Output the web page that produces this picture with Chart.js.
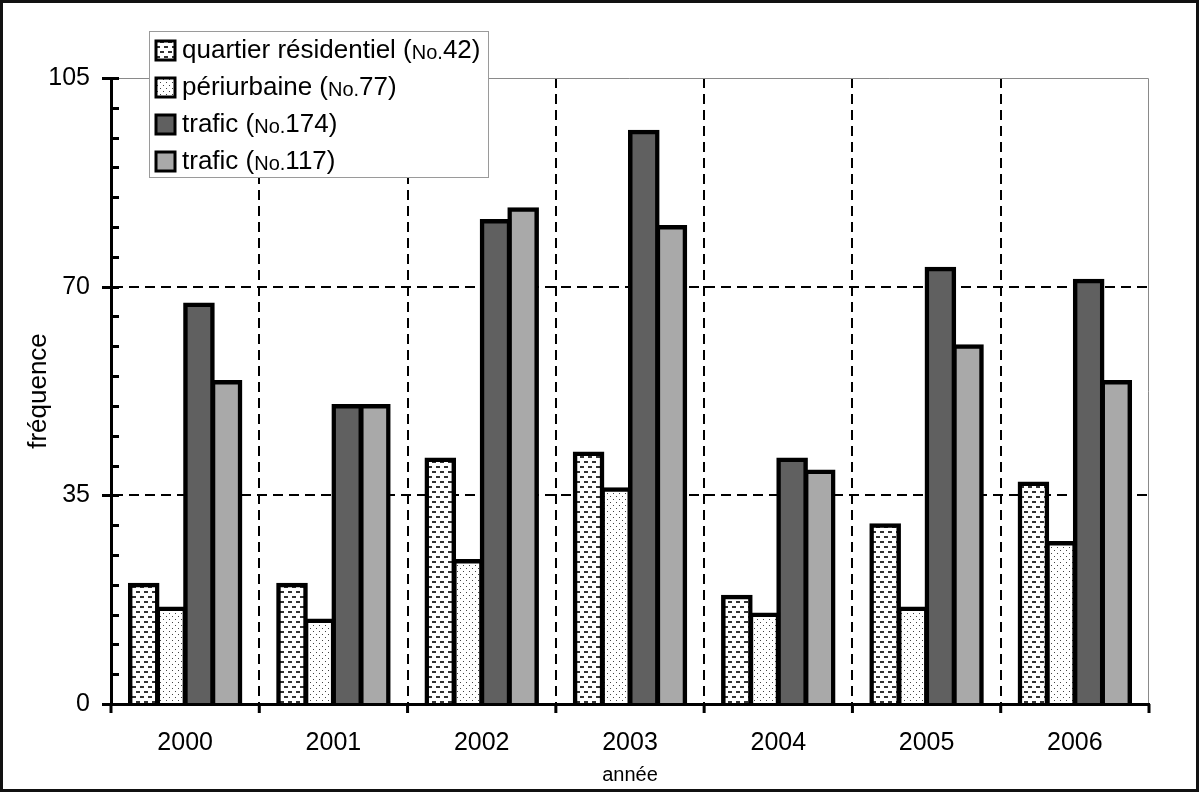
<!DOCTYPE html>
<html>
<head>
<meta charset="utf-8">
<script src="https://cdn.jsdelivr.net/npm/chart.js@4.4.1/dist/chart.umd.min.js"></script>
<style>
  html, body { margin: 0; padding: 0; background: #fff; }
  #wrap { width: 1200px; height: 794px; }
</style>
</head>
<body>
<div id="wrap"><canvas id="freqChart" width="1200" height="794"></canvas></div>
<script>
// data
let years = ['2000', '2001', '2002', '2003', '2004', '2005', '2006']
let res42 = [20, 20, 41, 42, 18, 30, 37]
let peri77 = [16, 14, 24, 36, 15, 16, 27]
let traf174 = [67, 50, 81, 96, 41, 73, 71]
let traf117 = [54, 50, 83, 80, 39, 60, 54]

let seriesNames = ['quartier résidentiel', 'périurbaine', 'trafic', 'trafic']
let stationNos = ['42', '77', '174', '117']
let yLabelTicks = [0, 35, 70, 105]

const FONT = 'Arial, "Liberation Sans", sans-serif'

function makePattern(kind) {
  const c = document.createElement('canvas')
  const g = c.getContext('2d')
  if (kind === 'dash') {
    c.width = 8; c.height = 10
    g.fillStyle = '#fff'; g.fillRect(0, 0, 8, 10)
    g.fillStyle = '#333'
    g.fillRect(0, 1, 4, 2)
    g.fillRect(4, 6, 4, 2)
  } else {
    c.width = 6; c.height = 6
    g.fillStyle = '#fff'; g.fillRect(0, 0, 6, 6)
    g.fillStyle = '#444'
    g.fillRect(1, 1, 1, 1)
    g.fillRect(4, 4, 1, 1)
  }
  return g.createPattern(c, 'repeat')
}

const fills = [makePattern('dash'), makePattern('dot'), '#606060', '#a9a9a9']

// axes tick marks, plot frame, legend and outer frame
const decor = {
  id: 'decor',
  beforeDraw(chart) {
    const c = chart.ctx
    c.save()
    c.fillStyle = '#fff'
    c.fillRect(0, 0, chart.width, chart.height)
    c.restore()
  },
  beforeDatasetsDraw(chart) {
    const c = chart.ctx, a = chart.chartArea
    c.save()
    c.strokeStyle = '#8a8a8a'
    c.lineWidth = 1
    c.beginPath()
    c.moveTo(a.left, a.top + 0.5)
    c.lineTo(a.right - 0.5, a.top + 0.5)
    c.lineTo(a.right - 0.5, a.bottom)
    c.stroke()
    c.restore()
  },
  afterDatasetsDraw(chart) {
    const c = chart.ctx, a = chart.chartArea
    const y = chart.scales.y, x = chart.scales.x
    c.save()
    c.strokeStyle = '#000'
    c.lineWidth = 3
    c.beginPath()
    y.ticks.forEach(t => {
      const py = Math.round(y.getPixelForValue(t.value)) + 0.5
      const major = yLabelTicks.includes(t.value)
      c.moveTo(a.left - (major ? 9 : 0), py)
      c.lineTo(a.left + 8, py)
    })
    const half = (x.getPixelForValue(1) - x.getPixelForValue(0)) / 2
    for (let i = 0; i <= years.length; i++) {
      const px = x.getPixelForValue(i) - half
      c.moveTo(px, a.bottom)
      c.lineTo(px, a.bottom + 9)
    }
    c.stroke()
    c.restore()
  },
  afterDraw(chart) {
    const c = chart.ctx
    c.save()
    // legend box
    const bx = 149, by = 31, bw = 339, bh = 146
    c.fillStyle = '#fff'
    c.fillRect(bx, by, bw, bh)
    c.strokeStyle = '#9a9a9a'
    c.lineWidth = 1
    c.strokeRect(bx + 0.5, by + 0.5, bw, bh)
    chart.data.datasets.forEach((ds, i) => {
      const cy = 50 + i * 37
      c.fillStyle = ds.backgroundColor
      c.fillRect(156, cy - 9, 19, 19)
      c.strokeStyle = '#000'
      c.lineWidth = 3
      c.strokeRect(156, cy - 9, 19, 19)
      c.fillStyle = '#000'
      c.textBaseline = 'middle'
      c.textAlign = 'left'
      let tx = 182
      c.font = '26px ' + FONT
      const p1 = seriesNames[i] + ' ('
      c.fillText(p1, tx, cy + 1)
      tx += c.measureText(p1).width
      c.font = '20px ' + FONT
      c.fillText('No.', tx, cy + 3)
      tx += c.measureText('No.').width
      c.font = '26px ' + FONT
      c.fillText(stationNos[i] + ')', tx, cy + 1)
    })
    // outer frame
    c.strokeStyle = '#111'
    c.lineWidth = 3
    c.strokeRect(1.5, 1.5, 1196, 789)
    c.restore()
  }
}

const dashed = [10, 6]

const ctx = document.getElementById('freqChart').getContext('2d')

const chart = new Chart(ctx, {
  type: 'bar',
  data: {
    labels: years,
    datasets: [
      { label: seriesNames[0] + ' (No.' + stationNos[0] + ')', data: res42, backgroundColor: fills[0] },
      { label: seriesNames[1] + ' (No.' + stationNos[1] + ')', data: peri77, backgroundColor: fills[1] },
      { label: seriesNames[2] + ' (No.' + stationNos[2] + ')', data: traf174, backgroundColor: fills[2] },
      { label: seriesNames[3] + ' (No.' + stationNos[3] + ')', data: traf117, backgroundColor: fills[3] }
    ]
  },
  options: {
    responsive: false,
    animation: false,
    devicePixelRatio: 1,
    layout: { padding: { left: 0, top: 78, right: 51, bottom: 0 } },
    datasets: {
      bar: {
        borderColor: '#000',
        borderWidth: 4.5,
        inflateAmount: 2,
        categoryPercentage: 0.745,
        barPercentage: 1
      }
    },
    plugins: {
      legend: { display: false },
      tooltip: { enabled: false }
    },
    scales: {
      x: {
        afterFit: s => { s.height = 90 },
        grid: {
          drawTicks: false,
          lineWidth: 2,
          color: c => (c.index > 0 ? '#000' : 'rgba(0,0,0,0)')
        },
        border: { color: '#000', width: 3, dash: dashed, z: 1 },
        ticks: { color: '#000', padding: 24, font: { family: FONT, size: 25 } },
        title: {
          display: true,
          text: 'année',
          color: '#000',
          font: { family: FONT, size: 20 },
          padding: { top: 0, bottom: 7 }
        }
      },
      y: {
        min: 0,
        max: 105,
        afterFit: s => { s.width = 111 },
        afterBuildTicks: s => {
          s.ticks = []
          for (let v = 0; v <= 105; v += 5) s.ticks.push({ value: v })
        },
        grid: {
          drawTicks: false,
          lineWidth: 2,
          color: c => (c.tick && (c.tick.value === 35 || c.tick.value === 70) ? '#000' : 'rgba(0,0,0,0)')
        },
        border: { color: '#000', width: 3, dash: dashed, z: 1 },
        ticks: {
          autoSkip: false,
          color: '#000',
          padding: 21,
          font: { family: FONT, size: 25 },
          callback: v => (yLabelTicks.includes(v) ? String(v) : '')
        },
        title: {
          display: true,
          text: 'fréquence',
          color: '#000',
          font: { family: FONT, size: 26 },
          padding: { top: 23, bottom: 0 }
        }
      }
    }
  },
  plugins: [decor]
})
</script>
</body>
</html>
